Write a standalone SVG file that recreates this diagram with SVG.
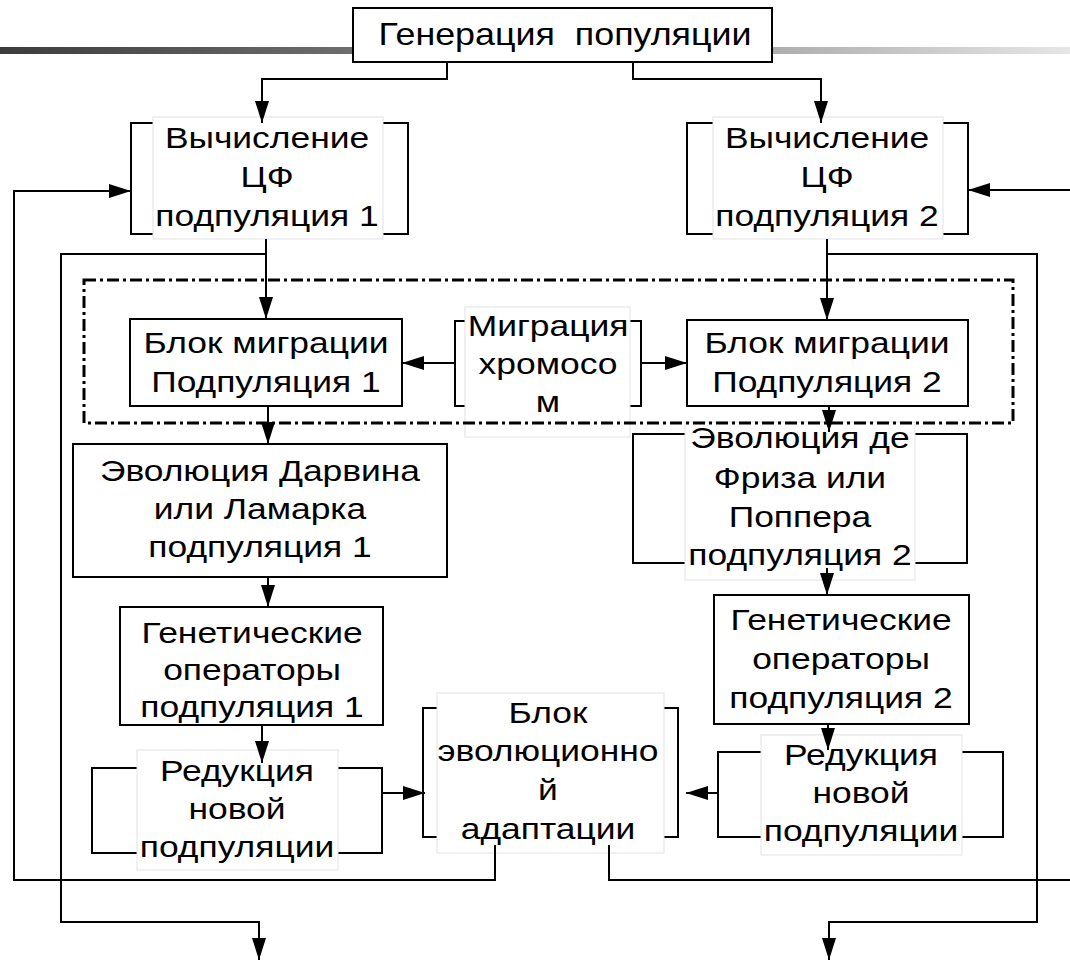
<svg xmlns="http://www.w3.org/2000/svg" width="1070" height="964" viewBox="0 0 1070 964">
<defs>
<linearGradient id="bar" x1="0" y1="0" x2="1" y2="0">
<stop offset="0" stop-color="#3c3c3c"/>
<stop offset="0.33" stop-color="#6e6e6e"/>
<stop offset="0.72" stop-color="#adadad"/>
<stop offset="1" stop-color="#e6e6e6"/>
</linearGradient>
<marker id="ah" markerUnits="userSpaceOnUse" markerWidth="24" markerHeight="16" refX="22" refY="7" orient="auto" overflow="visible">
<path d="M0,0 L22,7 L0,14 z" fill="#000"/>
</marker>
</defs>
<style>
.box{fill:#fff;stroke:#000;stroke-width:2}
.tbg{fill:#fff;stroke:#e2e2e2;stroke-width:1}
.t{font-family:"Liberation Sans",Arial,sans-serif;font-size:30px;fill:#000;text-anchor:middle;white-space:pre}
.c{fill:none;stroke:#000;stroke-width:2}
.a{marker-end:url(#ah)}
.dd{fill:none;stroke:#000;stroke-width:3;stroke-dasharray:12 4 3 4}
</style>
<rect x="0" y="47" width="1070" height="7" fill="url(#bar)"/>

<g id="n-gen">
<rect class="box" x="353" y="8" width="419" height="54"/>
<text class="t" xml:space="preserve" transform="translate(565,0) scale(1.12,1)" style="font-size:32px"><tspan x="0" y="45">Генерация  популяции</tspan></text>
</g>

<g id="n-vych1">
<rect class="box" x="131" y="123" width="277" height="111"/>
<rect class="tbg" x="153" y="117" width="230" height="122"/>
<text class="t" transform="translate(267,0) scale(1.18,1)"><tspan x="0" y="148">Вычисление</tspan><tspan x="0" y="187">ЦФ</tspan><tspan x="0" y="226">подпуляция 1</tspan></text>
</g>

<g id="n-vych2">
<rect class="box" x="687" y="123" width="281" height="111"/>
<rect class="tbg" x="713" y="117" width="230" height="122"/>
<text class="t" transform="translate(827,0) scale(1.18,1)"><tspan x="0" y="148">Вычисление</tspan><tspan x="0" y="187">ЦФ</tspan><tspan x="0" y="226">подпуляция 2</tspan></text>
</g>

<g id="n-mig1">
<rect class="box" x="130" y="319" width="272" height="87"/>
<text class="t" transform="translate(266,0) scale(1.18,1)"><tspan x="0" y="353">Блок миграции</tspan><tspan x="0" y="392">Подпуляция 1</tspan></text>
</g>

<g id="n-mig2">
<rect class="box" x="687" y="320" width="281" height="86"/>
<text class="t" transform="translate(827,0) scale(1.18,1)"><tspan x="0" y="353">Блок миграции</tspan><tspan x="0" y="392">Подпуляция 2</tspan></text>
</g>

<g id="n-migchr">
<rect class="box" x="455" y="321" width="186" height="85"/>
<rect class="tbg" x="465" y="307" width="165" height="130"/>
<text class="t" transform="translate(548,0) scale(1.18,1)"><tspan x="0" y="336">Миграция</tspan><tspan x="0" y="374">хромосо</tspan><tspan x="0" y="412">м</tspan></text>
</g>

<g id="n-darwin">
<rect class="box" x="73" y="444" width="374" height="133"/>
<text class="t" transform="translate(260,0) scale(1.18,1)"><tspan x="0" y="481">Эволюция Дарвина</tspan><tspan x="0" y="519">или Ламарка</tspan><tspan x="0" y="557">подпуляция 1</tspan></text>
</g>

<g id="n-defriz">
<rect class="box" x="633" y="434" width="334" height="129"/>
<rect class="tbg" x="685" y="422" width="230" height="158"/>
<text class="t" transform="translate(800,0) scale(1.18,1)"><tspan x="0" y="448">Эволюция де</tspan><tspan x="0" y="488">Фриза или</tspan><tspan x="0" y="527">Поппера</tspan><tspan x="0" y="565">подпуляция 2</tspan></text>
</g>

<g id="n-gen1">
<rect class="box" x="120" y="607" width="263" height="118"/>
<text class="t" transform="translate(252,0) scale(1.18,1)"><tspan x="0" y="643">Генетические</tspan><tspan x="0" y="680">операторы</tspan><tspan x="0" y="717">подпуляция 1</tspan></text>
</g>

<g id="n-gen2">
<rect class="box" x="714" y="595" width="255" height="129"/>
<text class="t" transform="translate(841,0) scale(1.18,1)"><tspan x="0" y="630">Генетические</tspan><tspan x="0" y="669">операторы</tspan><tspan x="0" y="708">подпуляция 2</tspan></text>
</g>

<g id="n-red1">
<rect class="box" x="92" y="768" width="290" height="85"/>
<rect class="tbg" x="137" y="750" width="201" height="120"/>
<text class="t" transform="translate(237,0) scale(1.18,1)"><tspan x="0" y="781">Редукция</tspan><tspan x="0" y="819">новой</tspan><tspan x="0" y="857">подпуляции</tspan></text>
</g>

<g id="n-adapt">
<rect class="box" x="423" y="708" width="255" height="129"/>
<rect class="tbg" x="437" y="693" width="227" height="160"/>
<text class="t" transform="translate(548,0) scale(1.18,1)"><tspan x="0" y="723">Блок</tspan><tspan x="0" y="761">эволюционно</tspan><tspan x="0" y="800">й</tspan><tspan x="0" y="839">адаптации</tspan></text>
</g>

<g id="n-red2">
<rect class="box" x="718" y="752" width="285" height="85"/>
<rect class="tbg" x="761" y="735" width="201" height="120"/>
<text class="t" transform="translate(861,0) scale(1.18,1)"><tspan x="0" y="765">Редукция</tspan><tspan x="0" y="803">новой</tspan><tspan x="0" y="841">подпуляции</tspan></text>
</g>

<g id="connectors">
<path class="c a" d="M447,62 V79 H262 V123"/>
<path class="c a" d="M633,62 V79 H821 V123"/>
<path class="c a" d="M266,239 V319"/>
<path class="c a" d="M266,254 H61 V922 H259 V960"/>
<path class="c a" d="M827,239 V320"/>
<path class="c a" d="M827,254 H1037 V922 H829 V960"/>
<path class="c a" d="M455,363 H402"/>
<path class="c a" d="M641,363 H687"/>
<path class="c a" d="M268,406 V444"/>
<path class="c a" d="M829,406 V432"/>
<path class="c a" d="M268,577 V607"/>
<path class="c a" d="M827,568 V595"/>
<path class="c a" d="M262,725 V763"/>
<path class="c a" d="M828,724 V750"/>
<path class="c a" d="M382,793 H425"/>
<path class="c a" d="M718,793 H686"/>
<path class="c a" d="M495,845 V880 H14 V191 H131"/>
<path class="c" d="M609,845 V880 H1070"/>
<path class="c a" d="M1070,190 H968"/>
<rect id="migration-zone" class="dd" x="84" y="280" width="929" height="143"/>
</g>
</svg>
